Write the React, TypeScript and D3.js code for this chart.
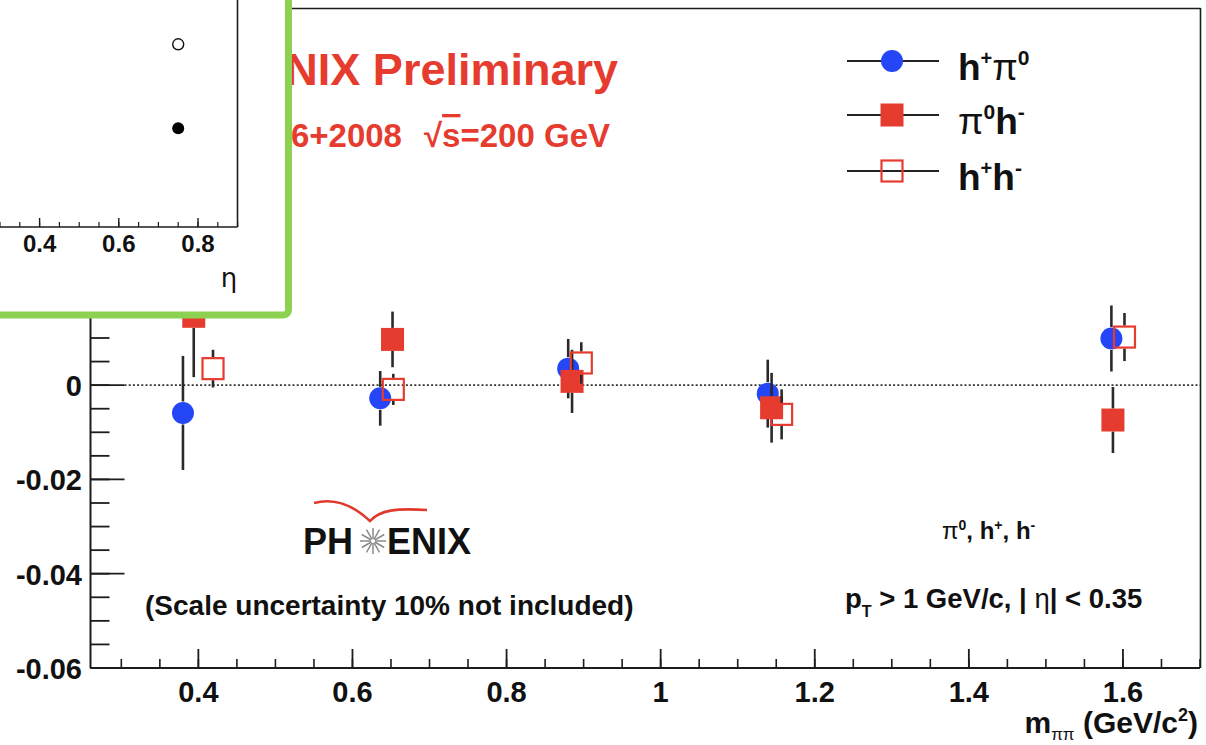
import React from "react";
import * as d3 from "d3";

// ---- Data ----
const hpPi0X = [0.38, 0.636, 0.88, 1.139, 1.585];
const hpPi0Y = [-0.0059, -0.0028, 0.0035, -0.0018, 0.0099];
const hpPi0Err = [0.0121, 0.0058, 0.0063, 0.0072, 0.007];

const pi0HmX = [0.394, 0.652, 0.885, 1.144, 1.587];
const pi0HmY = [0.0146, 0.0097, 0.0008, -0.0048, -0.0074];
const pi0HmErr = [0.0129, 0.0059, 0.0067, 0.0074, 0.007];

const hpHmX = [0.419, 0.653, 0.897, 1.157, 1.602];
const hpHmY = [0.0035, -0.0009, 0.0047, -0.0062, 0.0102];
const hpHmErr = [0.004, 0.0033, 0.0044, 0.0053, 0.0051];

const xTickValues = [0.4, 0.6, 0.8, 1.0, 1.2, 1.4, 1.6];
const yTickValues = [-0.06, -0.04, -0.02, 0, 0.02, 0.04, 0.06];

const insetTickValues = [0.4, 0.6, 0.8];
const insetEta = [0.75, 0.75];
const insetVal = [0.805, 0.435];
const insetOpen = [true, false];

const BLUE = "#2446f6";
const RED = "#e63c30";
const GREEN = "#8cd250";
const INK = "#1c1c1c";
const FONT = "'Liberation Sans', Arial, Helvetica, sans-serif";

type Kind = "circle" | "square" | "open";

function Marker({ cx, cy, kind }: { cx: number; cy: number; kind: Kind }) {
  if (kind === "circle") return <circle cx={cx} cy={cy} r={11} fill={BLUE} />;
  if (kind === "square")
    return <rect x={cx - 11.5} y={cy - 11.5} width={23} height={23} fill={RED} />;
  return (
    <rect x={cx - 10.5} y={cy - 10.5} width={21} height={21} fill="none" stroke={RED} strokeWidth={2.2} />
  );
}

export default function App() {
  const x = d3.scaleLinear().domain([0.26, 1.7]).range([90.5, 1200]);
  const y = d3.scaleLinear().domain([-0.06, 0.08]).range([668, 8]);

  const xMinor = d3.range(6, 35).map((i) => i * 0.05);
  const yMinor = d3.range(-12, 17).map((i) => i * 0.005);

  const ix = d3.scaleLinear().domain([0.3, 0.9]).range([0, 237.6]);
  const iy = d3.scaleLinear().domain([0, 1]).range([227, 0]);
  const iMinor = d3.range(4, 19).map((i) => i * 0.05);

  const series: { xs: number[]; ys: number[]; es: number[]; kind: Kind }[] = [
    { xs: hpPi0X, ys: hpPi0Y, es: hpPi0Err, kind: "circle" },
    { xs: pi0HmX, ys: pi0HmY, es: pi0HmErr, kind: "square" },
    { xs: hpHmX, ys: hpHmY, es: hpHmErr, kind: "open" },
  ];

  const legendRows: { kind: Kind; y: number }[] = [
    { kind: "circle", y: 61 },
    { kind: "square", y: 115 },
    { kind: "open", y: 171 },
  ];

  const fmtY = (v: number) => (Math.abs(v) < 1e-9 ? "0" : v.toFixed(2));
  const fmtX = (v: number) => String(+v.toFixed(1));

  // PHENIX logo star spokes
  const spokes = d3.range(12).map((i) => (i * Math.PI) / 6);

  return (
    <svg
      width={1206}
      height={745}
      style={{ position: "fixed", left: 0, top: 0, background: "#fff" }}
      fontFamily={FONT}
    >
      <rect x={0} y={0} width={1206} height={745} fill="#fff" />

      {/* Frame */}
      <line x1={90.5} x2={1200} y1={668} y2={668} stroke={INK} strokeWidth={2} />
      <line x1={90.5} x2={90.5} y1={8} y2={668} stroke={INK} strokeWidth={2} />
      <line x1={90.5} x2={1200.5} y1={8.5} y2={8.5} stroke={INK} strokeWidth={1.6} />
      <line x1={1200.5} x2={1200.5} y1={8} y2={668} stroke={INK} strokeWidth={1.6} />

      {/* X ticks */}
      {xMinor.map((v) => (
        <line key={"xm" + v} x1={x(v)} x2={x(v)} y1={668} y2={659} stroke={INK} strokeWidth={1.6} />
      ))}
      {xTickValues.map((v) => (
        <g key={"xt" + v}>
          <line x1={x(v)} x2={x(v)} y1={668} y2={649} stroke={INK} strokeWidth={1.8} />
          <text x={x(v)} y={702} textAnchor="middle" fontSize={29} fontWeight="bold" fill="#111">
            {fmtX(v)}
          </text>
        </g>
      ))}

      {/* Y ticks */}
      {yMinor.map((v) => (
        <line key={"ym" + v} x1={90.5} x2={109.5} y1={y(v)} y2={y(v)} stroke={INK} strokeWidth={1.8} />
      ))}
      {yTickValues.map((v) => (
        <g key={"yt" + v}>
          <line x1={90.5} x2={124.5} y1={y(v)} y2={y(v)} stroke={INK} strokeWidth={1.8} />
          <text x={82} y={y(v) + 11} textAnchor="end" fontSize={29} fontWeight="bold" fill="#111">
            {fmtY(v)}
          </text>
        </g>
      ))}

      {/* zero line */}
      <line
        x1={124.5}
        x2={1200}
        y1={y(0)}
        y2={y(0)}
        stroke="#333"
        strokeWidth={1.8}
        strokeDasharray="2 2.2"
      />

      {/* Data */}
      {series.map((s, si) => (
        <g key={"s" + si}>
          {s.xs.map((xv, i) => {
            const cx = x(xv);
            const cy = y(s.ys[i]);
            const top = y(s.ys[i] + s.es[i]);
            const bot = y(s.ys[i] - s.es[i]);
            const half = 11.5;
            return (
              <g key={i}>
                {top < cy - half && (
                  <line x1={cx} x2={cx} y1={top} y2={cy - half} stroke="#2a2a2a" strokeWidth={2.6} />
                )}
                {bot > cy + half && (
                  <line x1={cx} x2={cx} y1={cy + half} y2={bot} stroke="#2a2a2a" strokeWidth={2.6} />
                )}
                <Marker cx={cx} cy={cy} kind={s.kind} />
              </g>
            );
          })}
        </g>
      ))}

      {/* Title */}
      <text x={618} y={85} textAnchor="end" fontSize={45} fontWeight="bold" fill={RED}>
        PHENIX Preliminary
      </text>
      <text x={610} y={147} textAnchor="end" fontSize={33} fontWeight="bold" fill={RED}>
        <tspan>p+p 2006+2008</tspan>
        <tspan dx={22}>√</tspan>
        <tspan style={{ textDecoration: "overline" }}>s</tspan>
        <tspan>=200 GeV</tspan>
      </text>

      {/* Legend */}
      {legendRows.map((r) => (
        <g key={"lg" + r.kind}>
          <line x1={847} x2={939} y1={r.y} y2={r.y} stroke="#222" strokeWidth={2} />
          <Marker cx={892} cy={r.y} kind={r.kind} />
        </g>
      ))}
      <text x={958} y={80} fontSize={37} fontWeight="bold" fill="#111">
        <tspan>h</tspan>
        <tspan dy={-15} fontSize={20}>+</tspan>
        <tspan dy={15} fontWeight="normal">π</tspan>
        <tspan dy={-15} fontSize={21}>0</tspan>
      </text>
      <text x={958} y={134} fontSize={37} fontWeight="bold" fill="#111">
        <tspan fontWeight="normal">π</tspan>
        <tspan dy={-15} fontSize={21}>0</tspan>
        <tspan dy={15}>h</tspan>
        <tspan dy={-15} fontSize={21}>-</tspan>
      </text>
      <text x={958} y={190} fontSize={37} fontWeight="bold" fill="#111">
        <tspan>h</tspan>
        <tspan dy={-15} fontSize={20}>+</tspan>
        <tspan dy={15}>h</tspan>
        <tspan dy={-15} fontSize={21}>-</tspan>
      </text>

      {/* PHENIX logo */}
      <g>
        <path
          d="M314,503 C336,497 354,506 370,521 C380,510 396,508 427,510"
          fill="none"
          stroke="#e03a2f"
          strokeWidth={2.6}
        />
        <text x={303} y={554} fontSize={36} fontWeight="bold" fill="#111">
          PH
        </text>
        {spokes.map((a, i) => (
          <line
            key={"sp" + i}
            x1={373 + Math.cos(a) * 2}
            y1={541 + Math.sin(a) * 2}
            x2={373 + Math.cos(a) * 13}
            y2={541 + Math.sin(a) * 13}
            stroke="#8a8a8a"
            strokeWidth={1.5}
          />
        ))}
        <text x={387} y={554} fontSize={36} fontWeight="bold" fill="#111">
          ENIX
        </text>
      </g>

      {/* Annotations */}
      <text x={145} y={615} fontSize={28} fontWeight="bold" fill="#111">
        (Scale uncertainty 10% not included)
      </text>
      <text x={942} y={539} fontSize={24} fontWeight="bold" fill="#111">
        <tspan fontWeight="normal">π</tspan>
        <tspan dy={-9} fontSize={14}>0</tspan>
        <tspan dy={9}>, h</tspan>
        <tspan dy={-9} fontSize={14}>+</tspan>
        <tspan dy={9}>, h</tspan>
        <tspan dy={-9} fontSize={14}>-</tspan>
      </text>
      <text x={845} y={608} fontSize={27.5} fontWeight="bold" fill="#111">
        <tspan>p</tspan>
        <tspan dy={9} fontSize={16}>T</tspan>
        <tspan dy={-9}> &gt; 1 GeV/c, | </tspan>
        <tspan fontWeight="normal">η</tspan>
        <tspan>| &lt; 0.35</tspan>
      </text>

      {/* X axis title */}
      <text x={1198} y={733} textAnchor="end" fontSize={30} fontWeight="bold" fill="#111">
        <tspan>m</tspan>
        <tspan dy={7} fontSize={17} fontWeight="normal">ππ</tspan>
        <tspan dy={-7}> (GeV/c</tspan>
        <tspan dy={-12} fontSize={18}>2</tspan>
        <tspan dy={12}>)</tspan>
      </text>

      {/* Inset */}
      <g>
        <rect
          x={-20}
          y={-20}
          width={308.5}
          height={335}
          rx={5}
          fill="#fff"
          stroke={GREEN}
          strokeWidth={7}
        />
        <line x1={-5} x2={237.5} y1={227} y2={227} stroke={INK} strokeWidth={1.6} />
        <line x1={237.5} x2={237.5} y1={-5} y2={227} stroke={INK} strokeWidth={1.6} />
        {iMinor.map((v) => (
          <line key={"im" + v} x1={ix(v)} x2={ix(v)} y1={227} y2={222} stroke={INK} strokeWidth={1.2} />
        ))}
        {insetTickValues.map((v) => (
          <g key={"it" + v}>
            <line x1={ix(v)} x2={ix(v)} y1={227} y2={218} stroke={INK} strokeWidth={1.4} />
            <text x={ix(v)} y={252} textAnchor="middle" fontSize={24} fontWeight="bold" fill="#111">
              {fmtX(v)}
            </text>
          </g>
        ))}
        <text x={229} y={287} textAnchor="middle" fontSize={26} fill="#111" fontFamily="'DejaVu Sans', sans-serif">
          η
        </text>
        {insetEta.map((e, i) =>
          insetOpen[i] ? (
            <circle key={"ip" + i} cx={ix(e)} cy={iy(insetVal[i])} r={5.5} fill="#fff" stroke="#111" strokeWidth={1.4} />
          ) : (
            <circle key={"ip" + i} cx={ix(e)} cy={iy(insetVal[i])} r={6} fill="#000" />
          )
        )}
      </g>
    </svg>
  );
}
